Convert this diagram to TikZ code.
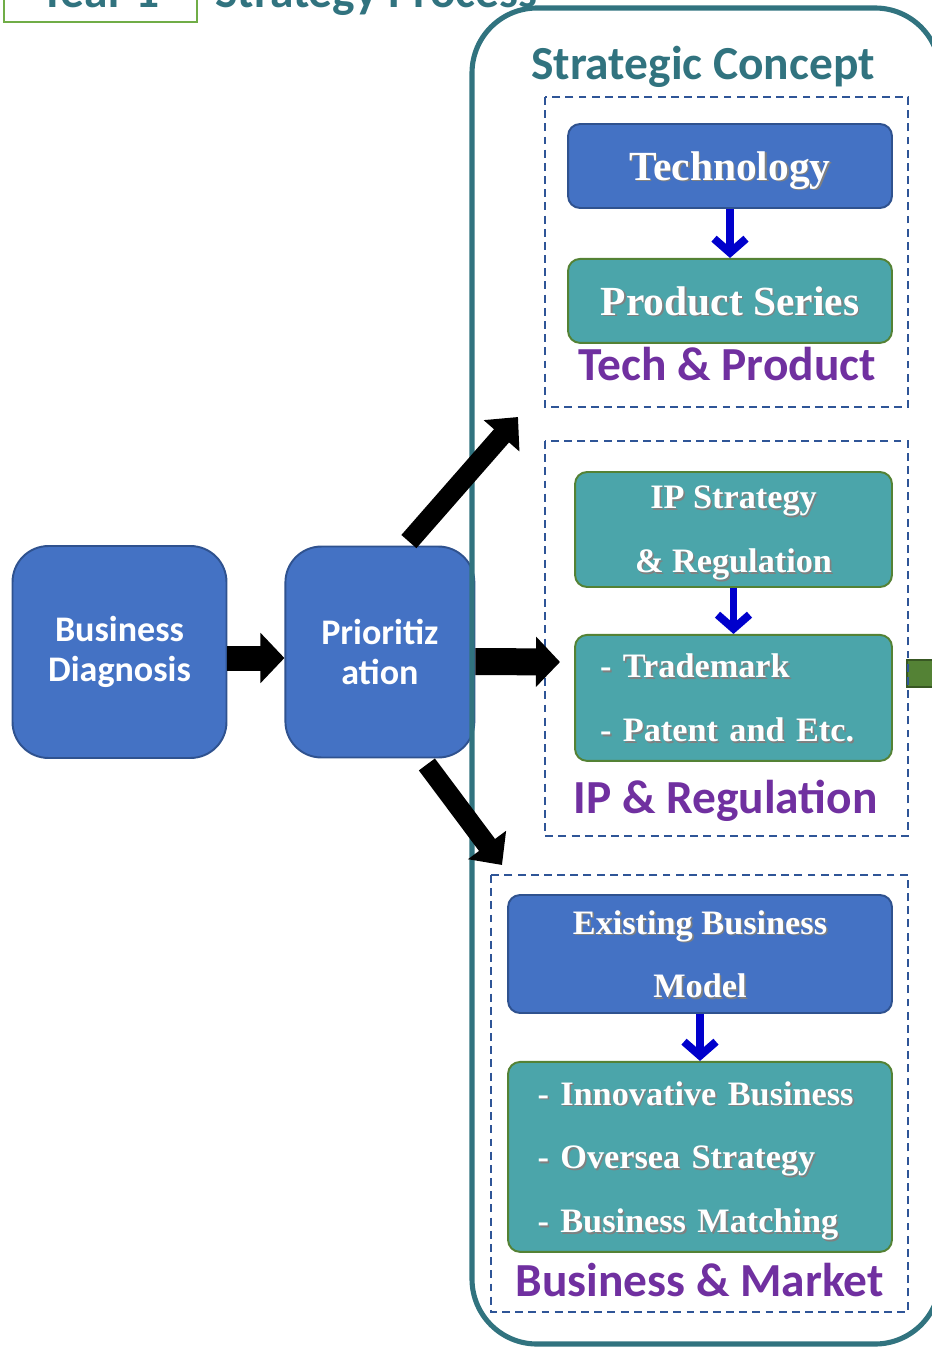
\documentclass[tikz,border=0pt]{standalone}
\usepackage{fontspec}
\setmainfont{Liberation Serif}
\setsansfont{Carlito}
\usetikzlibrary{arrows.meta, positioning, calc}
\definecolor{boxblue}{RGB}{68,114,196}
\definecolor{boxblueline}{RGB}{47,82,143}
\definecolor{boxteal}{RGB}{75,165,170}
\definecolor{boxgreen}{RGB}{84,130,53}
\definecolor{deepteal}{RGB}{49,115,127}
\definecolor{labelpurple}{RGB}{112,48,160}
\definecolor{dashblue}{RGB}{47,85,151}
\definecolor{arrowblue}{RGB}{0,0,204}
\definecolor{yeargreen}{RGB}{112,173,71}
\definecolor{darkgreen}{RGB}{56,87,35}
% white serif text with a soft drop shadow (depth ignored)
\newcommand{\shtext}[1]{\leavevmode\raisebox{0pt}[\height][0pt]{{\color{black!50}\rlap{\kern0.9pt\raisebox{-0.9pt}{#1}}}#1}}

\begin{document}
\begin{tikzpicture}[x=0.02cm, y=-0.02cm,
  bluebox/.style={draw=boxblueline, fill=boxblue, line width=1.1pt, rounded corners=0.24cm, text=white, inner sep=0pt},
  tealbox/.style={draw=boxgreen, fill=boxteal, line width=1.1pt, rounded corners=0.24cm, text=white, inner sep=0pt},
  serifbig/.style={font=\bfseries\fontsize{23.6}{28}\selectfont},
  serifmid/.style={font=\bfseries\fontsize{19.5}{36.3}\selectfont},
  bigbox/.style={draw=boxblueline, fill=boxblue, line width=1.1pt, rounded corners=0.72cm, text=white, align=center, font=\sffamily\bfseries\fontsize{20.5}{23.2}\selectfont},
  headline/.style={text=deepteal, font=\sffamily\bfseries\fontsize{27}{30}\selectfont, anchor=base},
  grouplabel/.style={text=labelpurple, font=\sffamily\bfseries\fontsize{27}{30}\selectfont, anchor=base},
  groupbox/.style={draw=dashblue, line width=1.2pt, dash pattern=on 4.5pt off 3pt},
  downarrow/.style={arrowblue, line width=4.5pt, -{Straight Barb[length=0.28cm,width=0.64cm]}},
  blockarrow/.style={line width=0.5cm, -{Triangle[length=0.48cm,width=0.98cm]}},
]
\useasboundingbox (0,0) rectangle (931,1348);

% Title, cut off at the top
\draw[yeargreen, line width=1.3pt] (4,-40) rectangle (197,22);
\node[headline] (year) at (100,8) {Year 1};
\node[headline, anchor=base west, inner xsep=0pt] (process) at (215,8) {Strategy Process};

% Outgoing green arrow (right edge)
\draw[darkgreen, fill=boxgreen, line width=1.5pt] (907,660) rectangle (980,687);

% Groups
\draw[groupbox] (545,97) rectangle (908,407);
\draw[groupbox] (545,441) rectangle (908,836);
\draw[groupbox] (491,875) rectangle (908,1312);

% Left chain
\node[bigbox, minimum width=4.28cm, minimum height=4.24cm] (diag) at (119.5,652) {Business\\Diagnosis};
\node[bigbox, right=1.14cm of diag, minimum width=3.78cm, minimum height=4.22cm] (prio) {Prioritiz\\ation};

% Tech & Product
\node[bluebox, serifbig, minimum width=6.48cm, minimum height=1.68cm] (tech) at (730,166) {\shtext{Technology}};
\node[tealbox, serifbig, below=0.98cm of tech, minimum width=6.48cm, minimum height=1.68cm] (prod) {\shtext{Product Series}};
\node[grouplabel] (techlbl) at (727,380) {Tech \& Product};

% IP & Regulation
\node[tealbox, serifmid, align=center, minimum width=6.34cm, minimum height=2.3cm] (ipreg) at (733.5,529.5) {\shtext{IP Strategy}\\\shtext{\& Regulation}};
\node[tealbox, serifmid, align=left, text width=5.34cm, inner xsep=0.5cm, below=0.92cm of ipreg, minimum height=2.52cm] (trade) {\shtext{- Trademark}\\\shtext{- Patent and Etc.}};
\node[grouplabel] (iplbl) at (725.5,813) {IP \& Regulation};

% Business & Market
\node[bluebox, serifmid, align=center, minimum width=7.68cm, minimum height=2.36cm] (exist) at (700,954) {\shtext{Existing Business}\\\shtext{Model}};
\node[tealbox, serifmid, align=left, text width=6.5cm, inner xsep=0.59cm, below=0.94cm of exist, minimum height=3.8cm] (innov) {\shtext{- Innovative Business}\\\shtext{- Oversea Strategy}\\\shtext{- Business Matching}};
\node[grouplabel] (bizlbl) at (699.5,1296) {Business \& Market};

% Strategic concept frame
\draw[deepteal, line width=2.9pt, rounded corners=1.3cm] (472,8) rectangle (940,1344);
\node[headline] (concept) at (703,80) {Strategic Concept};

% Arrows
\draw[downarrow] (tech.south) -- (prod.north);
\draw[downarrow] (ipreg.south) -- (trade.north);
\draw[downarrow] (exist.south) -- (innov.north);

\coordinate (techin) at (518,417);
\coordinate (ipin) at (560,662);
\coordinate (bizin) at (502,865);
\draw[blockarrow] ($(diag.east)+(0,6)$) -- ($(prio.west)+(0,6)$);
\draw[blockarrow, line width=0.4cm, -{Triangle[length=0.5cm,width=0.92cm]}] ($(prio.north)+(29,-4)$) -- (techin);
\draw[blockarrow, line width=0.54cm] ($(prio.east)+(0,9.5)$) -- (ipin);
\draw[blockarrow, line width=0.4cm, -{Triangle[length=0.5cm,width=0.92cm]}] ($(prio.south)+(47,6)$) -- (bizin);
\end{tikzpicture}
\end{document}
